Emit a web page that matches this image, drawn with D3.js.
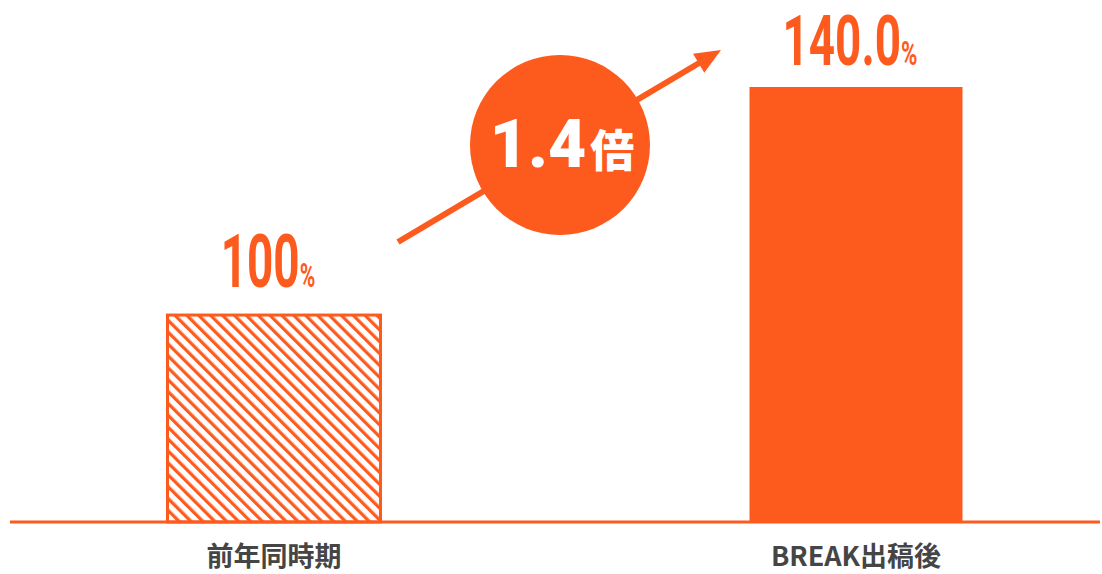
<!DOCTYPE html>
<meta charset="utf-8">
<style>
body { margin: 0; background: #fff; }
.cat { font: bold 27px "Noto Sans CJK JP", sans-serif; fill: #454545; }
.val { font-family: Roboto, sans-serif; font-weight: bold; fill: #fd5a1e; }
</style>
<body>
<script src="https://d3js.org/d3.v7.min.js"></script>
<script>

var categories = ["前年同時期", "BREAK出稿後"];
var values = [100, 140];
var valueLabels = ["100", "140.0"];
var ratioLabel = "1.4";
var ratioUnit = "倍";

var W = 1102, H = 574, orange = "#fd5a1e";
var baseY = 522, barW = 213;

var x = d3.scalePoint().domain(categories).range([274, 856]);
// truncated value axis: baseline is not zero
var y = d3.scaleLinear().domain([63.7, 140]).range([baseY, 87]);

var svg = d3.select("body").append("svg")
    .attr("width", W)
    .attr("height", H);

var defs = svg.append("defs");
var pat = defs.append("pattern")
    .attr("id", "hatch")
    .attr("patternUnits", "userSpaceOnUse")
    .attr("width", 8.4)
    .attr("height", 8.4)
    .attr("patternTransform", "rotate(-45)");
pat.append("line")
    .attr("x1", 0).attr("y1", 0).attr("x2", 0).attr("y2", 8.4)
    .attr("stroke", orange)
    .attr("stroke-width", 6.5);

svg.selectAll(".bar")
    .data(values)
  .enter().append("rect")
    .attr("class", "bar")
    .attr("x", function(d, i) { return x(categories[i]) - barW / 2; })
    .attr("y", function(d) { return y(d); })
    .attr("width", barW)
    .attr("height", function(d) { return baseY - y(d); })
    .attr("fill", function(d, i) { return i == 0 ? "url(#hatch)" : orange; })
    .attr("stroke", function(d, i) { return i == 0 ? orange : "none"; })
    .attr("stroke-width", 3);

// baseline
svg.append("line")
    .attr("x1", 10).attr("x2", 1100)
    .attr("y1", baseY).attr("y2", baseY)
    .attr("stroke", orange)
    .attr("stroke-width", 3);

// category labels
svg.selectAll(".cat")
    .data(categories)
  .enter().append("text")
    .attr("class", "cat")
    .attr("x", function(d) { return x(d); })
    .attr("y", 566)
    .attr("text-anchor", "middle")
    .text(function(d) { return d; });

// value labels (condensed look via horizontal scale)
var offs = [28, 22], sizes = [74, 70];
values.forEach(function(v, i) {
  var g = svg.append("g")
      .attr("transform", "translate(" + (x(categories[i]) - 6) + "," + (y(v) - offs[i]) + ") scale(" + (i == 0 ? 0.62 : 0.655) + ",1)");
  var t = g.append("text")
      .attr("class", "val")
      .attr("text-anchor", "middle")
      .style("font-size", sizes[i] + "px");
  t.append("tspan").text(valueLabels[i]);
  t.append("tspan").style("font-size", "34px").text("%");
});

// arrow
var a0 = [398, 242], a1 = [721, 50];
var ang = Math.atan2(a1[1] - a0[1], a1[0] - a0[0]);
var headLen = 26;
svg.append("line")
    .attr("x1", a0[0]).attr("y1", a0[1])
    .attr("x2", a1[0] - Math.cos(ang) * (headLen - 4))
    .attr("y2", a1[1] - Math.sin(ang) * (headLen - 4))
    .attr("stroke", orange)
    .attr("stroke-width", 6);
svg.append("path")
    .attr("d", "M0,0L" + (-headLen) + "," + (-11) + "L" + (-headLen) + ",11Z")
    .attr("transform", "translate(" + a1[0] + "," + a1[1] + ") rotate(" + (ang * 180 / Math.PI) + ")")
    .attr("fill", orange);

// ratio badge
svg.append("circle")
    .attr("cx", 560).attr("cy", 145).attr("r", 90)
    .attr("fill", orange);
var rt = svg.append("text")
    .attr("x", 562).attr("y", 167)
    .attr("text-anchor", "middle")
    .style("font-family", "Roboto, sans-serif")
    .style("font-weight", "900")
    .style("font-size", "66px")
    .attr("fill", "#fff");
rt.append("tspan").text(ratioLabel);
rt.append("tspan")
    .style("font-family", "'Noto Sans CJK JP', sans-serif")
    .style("font-size", "44px")
    .attr("dx", 4)
    .text(ratioUnit);

</script>
</body>
